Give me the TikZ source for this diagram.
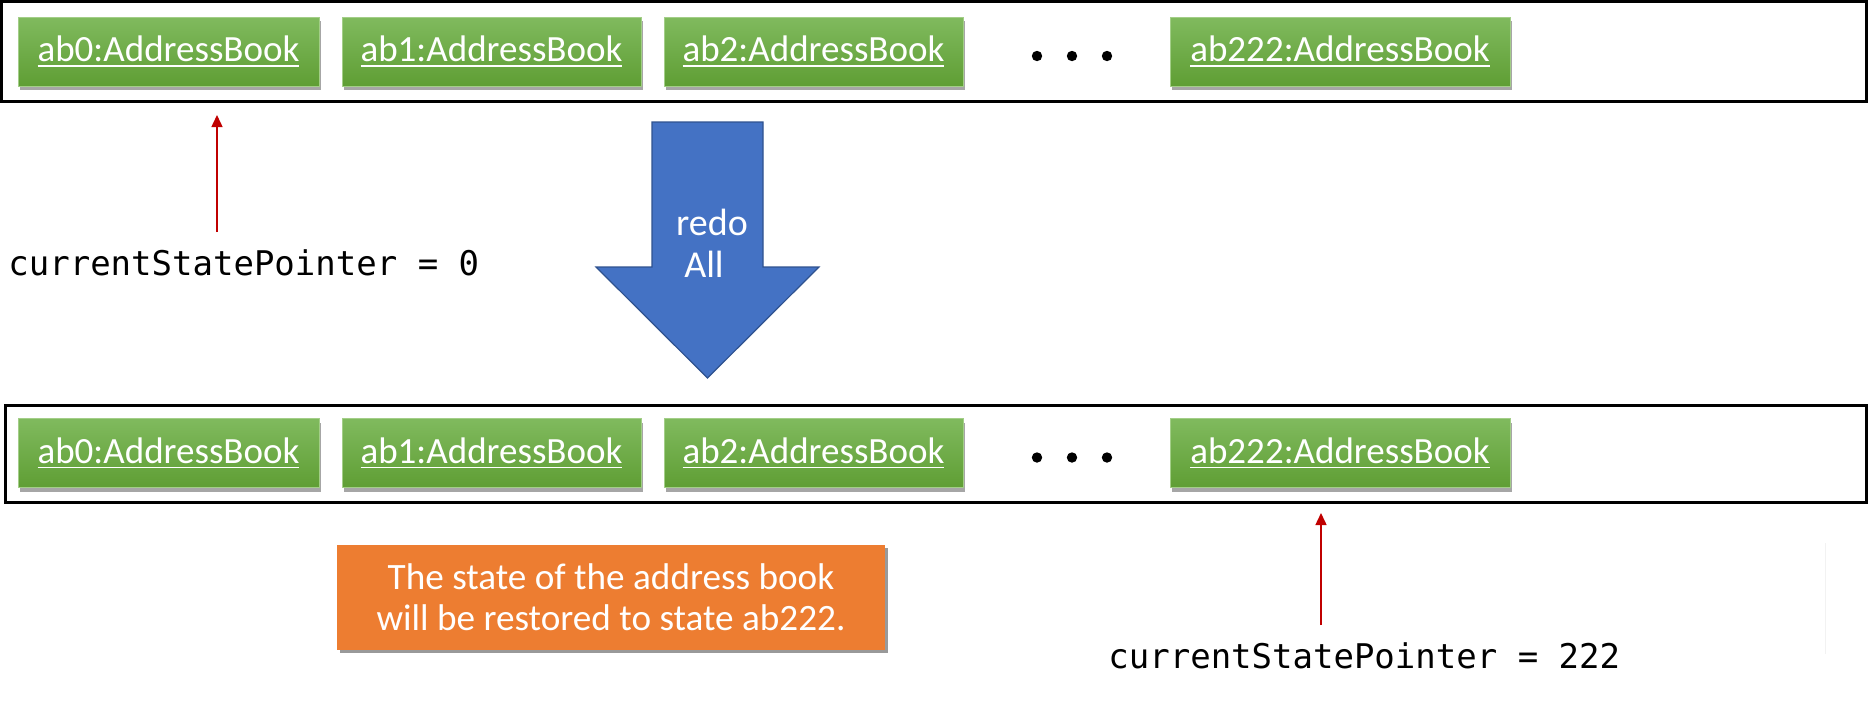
\documentclass[tikz,border=0pt]{standalone}
\usepackage{fontspec}
\setmainfont{Carlito}
\newfontfamily\codefont{DejaVu Sans Mono}
\usetikzlibrary{shadows,arrows.meta}

\definecolor{boxtop}{HTML}{80BA5E}
\definecolor{boxbottom}{HTML}{5F9E34}
\definecolor{boxedge}{HTML}{A3CE88}
\definecolor{redoblue}{HTML}{4472C4}
\definecolor{redoedge}{HTML}{2F528F}
\definecolor{noteorange}{HTML}{ED7D31}
\definecolor{ptrred}{HTML}{C00000}

% underlined object name
\newcommand{\objlabel}[1]{\setbox0\hbox{#1}\rlap{\rule[-2.6pt]{\wd0}{0.8pt}}\box0}

\tikzset{
  statebox/.style={draw=boxedge, line width=0.5pt, top color=boxtop, bottom color=boxbottom,
    text=white, inner sep=0pt, minimum height=34.5pt, font=\fontsize{18.5}{22}\selectfont,
    drop shadow={shadow xshift=1.2pt, shadow yshift=-2pt, opacity=0.35, fill=black}},
  strip/.style={draw, line width=1.5pt, inner sep=0pt},
  ptrarrow/.style={ptrred, line width=0.75pt, -{Triangle[length=6pt,width=5.5pt]}},
  ptrtext/.style={font=\codefont\fontsize{17}{20}\selectfont, inner sep=0pt},
  redotext/.style={text=white, font=\fontsize{19}{22}\selectfont, anchor=base, inner sep=0pt},
  note/.style={fill=noteorange, text=white, align=center, inner sep=0pt,
    minimum width=274pt, minimum height=52.5pt, font=\fontsize{18.6}{20.5}\selectfont,
    drop shadow={shadow xshift=1.5pt, shadow yshift=-1.5pt, opacity=0.4, fill=black}}
}

\begin{document}
\begin{tikzpicture}[x=0.5pt, y=-0.5pt]
  \useasboundingbox (0,0) rectangle (1870,709);

  % History strips
  \node[strip, minimum width=932.5pt, minimum height=50pt] (strip0) at (933.5,51) {};
  \node[strip, minimum width=930.5pt, minimum height=48.5pt] (strip1) at (935.5,453.5) {};

  % Address book states
  \foreach \r/\y in {t/51.5, b/453} {
    \node[statebox, minimum width=150.5pt] (ab0\r) at (168.5,\y) {\objlabel{ab0:AddressBook}};
    \node[statebox, minimum width=149.5pt] (ab1\r) at (491.5,\y) {\objlabel{ab1:AddressBook}};
    \node[statebox, minimum width=149.5pt] (ab2\r) at (813.5,\y) {\objlabel{ab2:AddressBook}};
    \node[statebox, minimum width=170pt] (ab222\r) at (1340,\y) {\objlabel{ab222:AddressBook}};
    \foreach \dx in {1037,1072,1107}
      \fill (\dx,\y+4.5) circle[radius=2.6pt];
  }

  % redo All arrow
  \filldraw[fill=redoblue, draw=redoedge, line width=0.6pt]
    (652,122) -- (763,122) -- (763,267) -- (819,267) -- (707.5,378)
    -- (596,267) -- (652,267) -- cycle;
  \node[redotext] (redo) at (712,235) {redo};
  \node[redotext] (all) at (704,277) {All};

  % Pointers
  \node[ptrtext, anchor=base west] (ptr0) at (8,275) {currentStatePointer = 0};
  \coordinate (tail0) at (217,232);
  \coordinate (tip0) at (217,115);
  \draw[ptrarrow] (tail0) -- (tip0);

  \node[ptrtext, anchor=base west] (ptr1) at (1108,668) {currentStatePointer = 222};
  \coordinate (tail1) at (1321,625);
  \coordinate (tip1) at (1321,513);
  \draw[ptrarrow] (tail1) -- (tip1);

  % Note
  \node[note] (msg) at (611,597) {The state of the address book\\ will be restored to state ab222.};

  \draw[black!5, line width=0.5pt] (1825,543) -- (1825,654);
\end{tikzpicture}
\end{document}
